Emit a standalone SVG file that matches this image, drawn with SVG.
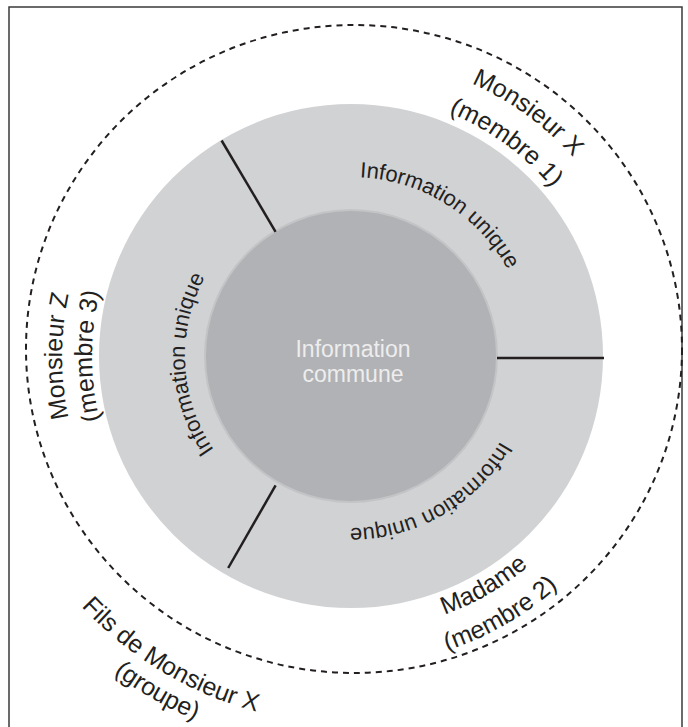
<svg xmlns="http://www.w3.org/2000/svg" width="688" height="727" viewBox="0 0 688 727">
<style>
.lbl{font-family:"Liberation Sans",Arial,sans-serif;fill:#231f20}
.ring{font-size:22px}
.outer{font-size:25px}
.div{stroke:#231f20;stroke-width:2.5;fill:none}
</style>
<defs>
<path id="pTop" d="M199.2,261.1 A179,179 0 0 1 502.8,450.9"/>
<path id="pBR" d="M500,270 A172,172 0 0 1 202,442"/>
<path id="pLeft" d="M359.7,521.8 A166,166 0 0 1 342.3,190.2"/>
<path id="pMX1" d="M109.9,180.8 A298,298 0 0 1 592.1,531.2"/>
<path id="pMX2" d="M139,202 A262,262 0 0 1 563,510"/>
<path id="pMZ1" d="M351,645 A289,289 0 0 1 351,67"/>
<path id="pMZ2" d="M351,615 A259,259 0 0 1 351,97"/>
<path id="pMa1" d="M112.8,493.5 A275,275 0 0 0 589.2,218.5"/>
<path id="pMa2" d="M82.5,511 A310,310 0 0 0 619.5,201"/>
<path id="pF1" d="M35.6,166.5 A364,364 0 0 0 666.4,545.5"/>
<path id="pF2" d="M8,158 A396,396 0 0 0 694,554"/>
</defs>
<path id="frame" d="M9,727 V7 H682 V727" fill="none" stroke="#3a3a3a" stroke-width="1.5"/>
<g id="group-boundary">
<ellipse cx="354" cy="349" rx="328" ry="324" fill="none" stroke="#231f20" stroke-width="2" stroke-dasharray="6 5"/>
</g>
<g id="unique-ring">
<circle cx="351" cy="356" r="252" fill="#d1d2d4"/>
</g>
<g id="common">
<circle cx="351" cy="356" r="146" fill="#b1b2b5" stroke="#c3c4c6" stroke-width="2"/>
<text class="lbl" x="353" y="357" font-size="23" text-anchor="middle" style="fill:#ededed">Information</text>
<text class="lbl" x="353" y="382" font-size="23" text-anchor="middle" style="fill:#ededed">commune</text>
</g>
<g id="connectors">
<line class="div" x1="497" y1="358" x2="604" y2="358"/>
<line class="div" x1="275.6" y1="231.8" x2="221.6" y2="140.5"/>
<line class="div" x1="275.6" y1="485.4" x2="228.2" y2="568"/>
</g>
<g id="seg-member1">
<text class="lbl ring"><textPath href="#pTop" startOffset="50%" text-anchor="middle">Information unique</textPath></text>
</g>
<g id="seg-member2">
<text class="lbl ring"><textPath href="#pBR" startOffset="50%" text-anchor="middle">Information unique</textPath></text>
</g>
<g id="seg-member3">
<text class="lbl ring"><textPath href="#pLeft" startOffset="50%" text-anchor="middle">Information unique</textPath></text>
</g>
<g id="label-member1">
<text class="lbl outer"><textPath href="#pMX1" startOffset="50%" text-anchor="middle">Monsieur X</textPath></text>
<text class="lbl outer"><textPath href="#pMX2" startOffset="50%" text-anchor="middle">(membre 1)</textPath></text>
</g>
<g id="label-member3">
<text class="lbl outer"><textPath href="#pMZ1" startOffset="50%" text-anchor="middle">Monsieur Z</textPath></text>
<text class="lbl outer"><textPath href="#pMZ2" startOffset="50%" text-anchor="middle">(membre 3)</textPath></text>
</g>
<g id="label-member2">
<text class="lbl outer"><textPath href="#pMa1" startOffset="50%" text-anchor="middle">Madame</textPath></text>
<text class="lbl outer"><textPath href="#pMa2" startOffset="50%" text-anchor="middle">(membre 2)</textPath></text>
</g>
<g id="label-group">
<text class="lbl outer"><textPath href="#pF1" startOffset="50%" text-anchor="middle">Fils de Monsieur X</textPath></text>
<text class="lbl outer"><textPath href="#pF2" startOffset="50%" text-anchor="middle">(groupe)</textPath></text>
</g>
</svg>
